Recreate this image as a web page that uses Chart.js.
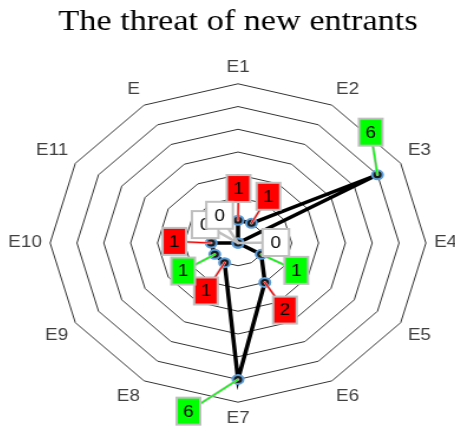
<!DOCTYPE html>
<html>
<head>
<meta charset="utf-8">
<script src="https://cdn.jsdelivr.net/npm/chart.js@4"></script>
<style>
  html, body { margin: 0; padding: 0; background: #fff; overflow: hidden; }
  #chart { display: block; margin-left: -23.7px; }
</style>
</head>
<body>
<!-- the original picture is stretched sideways, so the canvas is shown wider than it draws -->
<canvas id="chart" width="444" height="430" style="width:523.5px;height:430px"></canvas>
<script>
const axisLabels = ['E1', 'E2', 'E3', 'E4', 'E5', 'E6', 'E7', 'E8', 'E9', 'E10', 'E11', 'E'];
const scores = [1, 1, 6, 0, 1, 2, 6, 1, 1, 1, 0, 0];
const labelColors = ['#ff0000', '#ff0000', '#00ff00', '#ffffff', '#00ff00', '#ff0000',
                     '#00ff00', '#ff0000', '#00ff00', '#ff0000', '#ffffff', '#ffffff'];
const scaleMax = 7;

// callout boxes with a leader line back to their point
const calloutPlugin = {
  id: 'callouts',
  afterDatasetsDraw(chart, args, opts) {
    const ctx = chart.ctx;
    const meta = chart.getDatasetMeta(0);
    const values = chart.data.datasets[0].data;
    const h = opts.boxHeight;
    const boxes = meta.data.map((pt, i) => ({
      px: pt.x,
      py: pt.y,
      cx: pt.x + opts.offsets[i][0],
      cy: pt.y + opts.offsets[i][1],
      white: opts.colors[i] === '#ffffff'
    }));
    ctx.save();
    ctx.lineCap = 'round';
    boxes.forEach((b, i) => {
      ctx.beginPath();
      ctx.moveTo(b.px, b.py);
      ctx.lineTo(b.cx, b.cy);
      ctx.strokeStyle = '#c0c0c0';
      ctx.lineWidth = 2.5;
      ctx.stroke();
      if (!b.white) {
        ctx.strokeStyle = opts.colors[i];
        ctx.lineWidth = 1.2;
        ctx.stroke();
      }
    });
    boxes.forEach((b, i) => {
      const w = b.white ? opts.whiteBoxWidth : opts.boxWidth;
      const x = b.cx - w / 2, y = b.cy - h / 2;
      ctx.fillStyle = opts.colors[i];
      ctx.fillRect(x, y, w, h);
      ctx.strokeStyle = '#bfbfbf';
      ctx.lineWidth = 2;
      ctx.strokeRect(x, y, w, h);
      ctx.fillStyle = '#000';
      ctx.font = opts.font;
      ctx.textAlign = 'center';
      ctx.textBaseline = 'middle';
      ctx.fillText(String(values[i]), b.cx, b.cy + 1);
    });
    ctx.restore();
  }
};

new Chart(document.getElementById('chart'), {
  type: 'radar',
  data: {
    labels: axisLabels,
    datasets: [{
      data: scores,
      fill: false,
      borderColor: '#000',
      borderWidth: 3.5,
      tension: 0,
      pointRadius: 4.5,
      pointBorderWidth: 2,
      pointBackgroundColor: '#1a1a1a',
      pointBorderColor: '#5b9bd5'
    }]
  },
  options: {
    responsive: false,
    animation: false,
    layout: { padding: 0 },
    plugins: {
      legend: { display: false },
      tooltip: { enabled: false },
      title: {
        display: true,
        text: 'The threat of new entrants',
        color: '#000',
        font: { family: 'Liberation Serif', size: 29, weight: 'normal' },
        padding: { top: 5, bottom: 17.8 }
      },
      callouts: {
        colors: labelColors,
        boxWidth: 20,
        whiteBoxWidth: 22.5,
        boxHeight: 27,
        font: '16px "Liberation Sans"',
        offsets: [
          [0.5, -31.7], [14.4, -27], [-5.7, -42.6], [32, -0.5],
          [29.7, 16], [17, 27.7], [-42, 31.7], [-15.8, 28.3],
          [-26.8, 16.7], [-31.2, -1.6], [-27.8, -18.4], [-15.6, -27.7]
        ]
      }
    },
    scales: {
      r: {
        min: 0,
        max: scaleMax,
        ticks: { display: false, stepSize: 1 },
        angleLines: { display: false },
        grid: { color: '#333333', lineWidth: 1 },
        pointLabels: {
          padding: 7,
          color: '#404040',
          font: { family: 'Liberation Sans', size: 16 }
        }
      }
    }
  },
  plugins: [calloutPlugin]
});
</script>
</body>
</html>
